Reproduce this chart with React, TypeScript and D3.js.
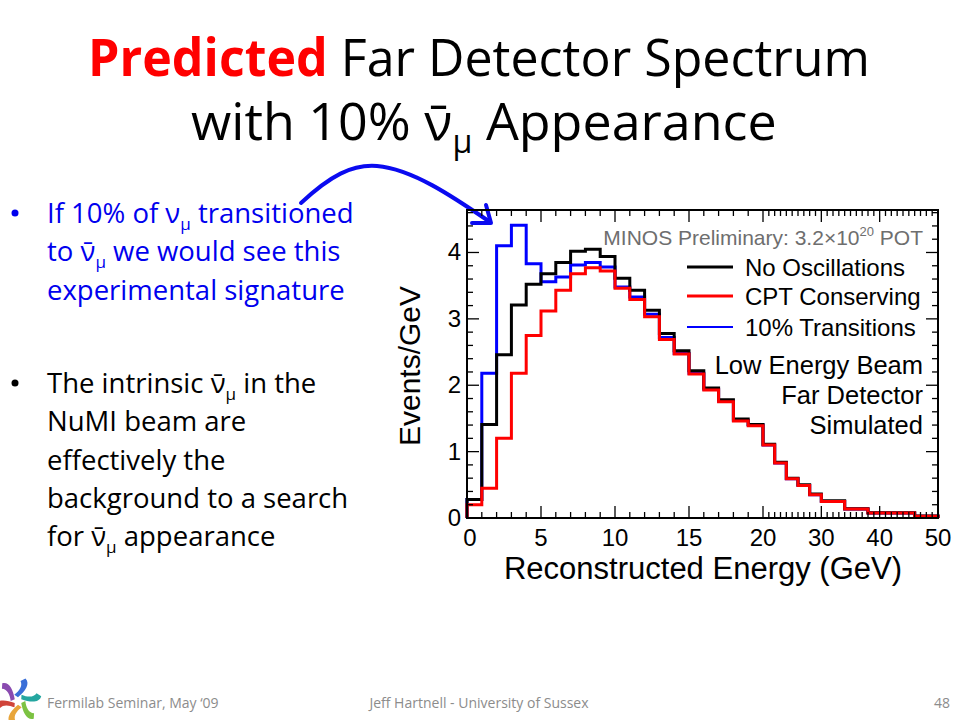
import React from 'react';
import * as d3 from 'd3';

// Histogram bin edges (GeV); axis is compressed above 20 GeV
const binEdges = [0, 1, 2, 3, 4, 5, 6, 7, 8, 9, 10, 11, 12, 13, 14, 15, 16, 17, 18, 19, 20, 22, 24, 26, 28, 30, 34, 38, 46, 50];

const noOscillations = [0.28, 1.41, 2.46, 3.21, 3.52, 3.68, 3.85, 4.02, 4.05, 3.94, 3.61, 3.43, 3.13, 2.78, 2.52, 2.22, 1.96, 1.78, 1.49, 1.41, 1.11, 0.84, 0.6, 0.5, 0.36, 0.26, 0.14, 0.08, 0.03];
const cptConserving = [0.2, 0.45, 1.2, 2.18, 2.75, 3.12, 3.43, 3.68, 3.77, 3.72, 3.46, 3.29, 3.03, 2.69, 2.47, 2.17, 1.93, 1.75, 1.46, 1.39, 1.1, 0.83, 0.59, 0.49, 0.35, 0.25, 0.135, 0.075, 0.025];
const transitions10 = [0.28, 2.18, 4.1, 4.41, 3.83, 3.56, 3.63, 3.81, 3.85, 3.78, 3.48, 3.33, 3.07, 2.72, 2.48, 2.18, 1.94, 1.76, 1.47, 1.4, 1.1, 0.83, 0.59, 0.49, 0.35, 0.25, 0.135, 0.075, 0.025];

const xTickLabels = [0, 5, 10, 15, 20, 30, 40, 50];
const yTickLabels = [0, 1, 2, 3, 4];

const legendLabels = ['No Oscillations', 'CPT Conserving', '10% Transitions'];
const legendColors = ['#000000', '#ff0000', '#0000ff'];
const noteLines = ['Low Energy Beam', 'Far Detector', 'Simulated'];

const plot = { left: 467, right: 938, top: 210, bottom: 518 };

const chartFont = '"Liberation Sans", Arial, sans-serif';
const slideFont = '"Open Sans", "Noto Sans", sans-serif';
const bulletBlue = '#0000ee';

const x = d3.scaleLinear()
  .domain([0, 20, 50])
  .range([plot.left, 763, plot.right]);

const y = d3.scaleLinear()
  .domain([0, 4.64])
  .range([plot.bottom, plot.top]);

const histLine = d3.line<[number, number]>()
  .x(d => x(d[0]))
  .y(d => y(d[1]))
  .curve(d3.curveStepAfter);

function histPath(values: number[]) {
  const pts: [number, number][] = [[binEdges[0], 0]];
  values.forEach((v, i) => pts.push([binEdges[i], v]));
  pts.push([binEdges[binEdges.length - 1], values[values.length - 1]]);
  pts.push([binEdges[binEdges.length - 1], 0]);
  return histLine(pts) || '';
}

// nu-bar-mu with subscript
const NuBar = ({ size, fill }: { size: number; fill: string }) => (
  <>
    <tspan fill={fill}>{'\u03bd\u0304'}</tspan>
    <tspan dy={size * 0.25} fontSize={size * 0.62} fill={fill}>{'\u03bc'}</tspan>
    <tspan dy={-size * 0.25} fill={fill}>{' '}</tspan>
  </>
);

const Nu = ({ size, fill }: { size: number; fill: string }) => (
  <>
    <tspan fill={fill}>{'\u03bd'}</tspan>
    <tspan dy={size * 0.25} fontSize={size * 0.62} fill={fill}>{'\u03bc'}</tspan>
    <tspan dy={-size * 0.25} fill={fill}>{' '}</tspan>
  </>
);

const Logo = () => {
  const colors = ['#3a6fd8', '#24a6a0', '#7cc242', '#e8a53a', '#d0443a', '#8a4bb0'];
  return (
    <g transform="translate(18,701) scale(1.25)">
      {colors.map((c, i) => (
        <path
          key={i}
          d="M0,-3 C6,-8 10,-14 6,-18 L2,-16 C4,-12 1,-8 -3,-5 Z"
          fill={c}
          transform={`rotate(${i * 60})`}
        />
      ))}
    </g>
  );
};

export default function App() {
  const bulletSize = 27.5;
  const lh = 38.3;

  const xMinor = d3.range(0, 51, 1);
  const yMinor = d3.range(0, 4.61, 0.2);

  return (
    <div style={{ position: 'absolute', left: 0, top: 0 }}>
      <svg width={960} height={720} style={{ display: 'block', background: '#fff' }}>
        {/* Title */}
        <text x={479} y={76} textAnchor="middle" fontFamily={slideFont} fontSize={52}
          textLength={782} lengthAdjust="spacingAndGlyphs">
          <tspan fill="#ff0000" fontWeight="bold">Predicted</tspan>
          <tspan fill="#000"> Far Detector Spectrum</tspan>
        </text>
        <text x={191} y={140} fontFamily={slideFont} fontSize={52} fill="#000">
          <tspan>with 10% </tspan>
          <NuBar size={52} fill="#000" />
          <tspan>Appearance</tspan>
        </text>

        {/* Bullets */}
        <g fontFamily={slideFont} fontSize={bulletSize}>
          <circle cx={15} cy={213} r={3.5} fill={bulletBlue} />
          <text x={47} y={223} fill={bulletBlue}>
            <tspan>If 10% of </tspan><Nu size={bulletSize} fill={bulletBlue} /><tspan>transitioned</tspan>
          </text>
          <text x={47} y={223 + lh} fill={bulletBlue}>
            <tspan>to </tspan><NuBar size={bulletSize} fill={bulletBlue} /><tspan>we would see this</tspan>
          </text>
          <text x={47} y={223 + lh * 2} fill={bulletBlue}>experimental signature</text>

          <circle cx={15} cy={383} r={3.5} fill="#000" />
          <text x={47} y={393} fill="#000">
            <tspan>The intrinsic </tspan><NuBar size={bulletSize} fill="#000" /><tspan>in the</tspan>
          </text>
          <text x={47} y={393 + lh} fill="#000">NuMI beam are</text>
          <text x={47} y={393 + lh * 2} fill="#000">effectively the</text>
          <text x={47} y={393 + lh * 3} fill="#000">background to a search</text>
          <text x={47} y={393 + lh * 4} fill="#000">
            <tspan>for </tspan><NuBar size={bulletSize} fill="#000" /><tspan>appearance</tspan>
          </text>
        </g>

        {/* Arrow */}
        <g stroke="#0a0af0" strokeWidth={4} fill="none" strokeLinecap="round">
          <path d="M301,203 C330,176 352,164 377,166 C412,169 452,196 490,222" />
          <path d="M472,223 L491,223 L486,205" strokeLinejoin="round" />
        </g>

        {/* Histograms */}
        <g fill="none" strokeWidth={3} strokeLinejoin="miter">
          <path d={histPath(transitions10)} stroke="#0000ff" />
          <path d={histPath(noOscillations)} stroke="#000000" />
          <path d={histPath(cptConserving)} stroke="#ff0000" />
        </g>

        {/* Frame and ticks */}
        <rect x={plot.left} y={plot.top} width={plot.right - plot.left} height={plot.bottom - plot.top}
          fill="none" stroke="#000" strokeWidth={2} />
        <g stroke="#000" strokeWidth={1.3}>
          {xMinor.map(v => {
            const len = xTickLabels.includes(v) ? 12 : 6;
            return (
              <g key={`xt${v}`}>
                <line x1={x(v)} x2={x(v)} y1={plot.bottom} y2={plot.bottom - len} />
                <line x1={x(v)} x2={x(v)} y1={plot.top} y2={plot.top + len} />
              </g>
            );
          })}
          {yMinor.map((v, i) => {
            const len = i % 5 === 0 ? 12 : 6;
            return (
              <g key={`yt${i}`}>
                <line x1={plot.left} x2={plot.left + len} y1={y(v)} y2={y(v)} />
                <line x1={plot.right} x2={plot.right - len} y1={y(v)} y2={y(v)} />
              </g>
            );
          })}
        </g>

        {/* Tick labels */}
        <g fontFamily={chartFont} fontSize={24} fill="#000">
          {xTickLabels.map(v => (
            <text key={`xl${v}`} x={x(v) + (v === 0 ? 3 : 0)} y={546} textAnchor="middle">{v}</text>
          ))}
          {yTickLabels.map(v => (
            <text key={`yl${v}`} x={461} y={y(v) + 8} textAnchor="end">{v}</text>
          ))}
        </g>

        {/* Axis titles */}
        <text x={703} y={579} textAnchor="middle" fontFamily={chartFont} fontSize={31} fill="#000">
          Reconstructed Energy (GeV)
        </text>
        <text transform="translate(420,366) rotate(-90)" textAnchor="middle" fontFamily={chartFont}
          fontSize={30} fill="#000">
          Events/GeV
        </text>

        {/* Legend */}
        <text x={923} y={245} textAnchor="end" fontFamily={chartFont} fontSize={21} fill="#6e6e6e">
          <tspan>MINOS Preliminary: 3.2{'\u00d7'}10</tspan>
          <tspan dy={-9} fontSize={13}>20</tspan>
          <tspan dy={9}> POT</tspan>
        </text>
        {legendLabels.map((label, i) => {
          const ly = [267, 296, 327][i];
          return (
            <g key={label}>
              <line x1={687} x2={733} y1={ly} y2={ly} stroke={legendColors[i]} strokeWidth={i === 2 ? 2 : 3} />
              <text x={745} y={ly + 9} fontFamily={chartFont} fontSize={24} fill="#000">{label}</text>
            </g>
          );
        })}
        {noteLines.map((t, i) => (
          <text key={t} x={923} y={374 + i * 30} textAnchor="end" fontFamily={chartFont} fontSize={25.5} fill="#000">
            {t}
          </text>
        ))}

        {/* Footer */}
        <Logo />
        <g fontFamily={slideFont} fontSize={14} fill="#8c8c8c">
          <text x={47} y={708}>Fermilab Seminar, May {'\u201809'}</text>
          <text x={479} y={708} textAnchor="middle">Jeff Hartnell - University of Sussex</text>
          <text x={950} y={708} textAnchor="end">48</text>
        </g>
      </svg>
    </div>
  );
}
